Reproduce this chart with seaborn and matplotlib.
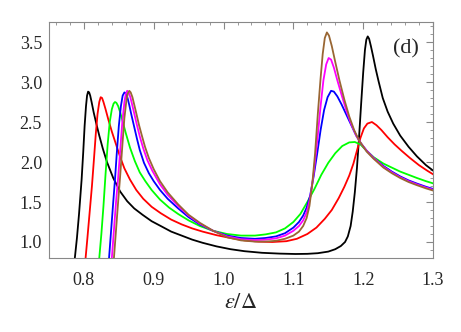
import pandas as pd
import seaborn as sns
import matplotlib.pyplot as plt
from matplotlib.ticker import MultipleLocator

# curves, one x/y pair per colour
black_x = [0.780, 0.787, 0.790, 0.793, 0.7967, 0.799, 0.801, 0.803, 0.8045, 0.806, 0.8075, 0.809, 0.811,
           0.814, 0.818, 0.822, 0.827, 0.833, 0.842, 0.852, 0.862, 0.872, 0.884, 0.897, 0.910, 0.925,
           0.940, 0.955, 0.970, 0.990, 1.010, 1.030, 1.055, 1.080, 1.103, 1.120, 1.135, 1.150, 1.160,
           1.168, 1.174, 1.178, 1.182, 1.185, 1.188, 1.191, 1.194, 1.197, 1.200, 1.2025, 1.2045, 1.2065,
           1.2085, 1.211, 1.214, 1.218, 1.222, 1.228, 1.235, 1.243, 1.253, 1.265, 1.277, 1.290, 1.305]
black_y = [0.40, 0.80, 1.05, 1.35, 1.78, 2.12, 2.45, 2.70, 2.83, 2.88, 2.87, 2.83, 2.75,
           2.62, 2.47, 2.33, 2.17, 2.00, 1.80, 1.63, 1.51, 1.42, 1.34, 1.26, 1.20, 1.13,
           1.08, 1.03, 0.99, 0.945, 0.91, 0.885, 0.865, 0.855, 0.85, 0.852, 0.86, 0.88, 0.91,
           0.95, 1.00, 1.07, 1.20, 1.38, 1.62, 1.92, 2.30, 2.72, 3.12, 3.40, 3.53, 3.57,
           3.54, 3.45, 3.33, 3.16, 3.01, 2.80, 2.63, 2.48, 2.33, 2.19, 2.07, 1.96, 1.86]

red_x = [0.797, 0.8024, 0.805, 0.808, 0.8115, 0.8145, 0.817, 0.8195, 0.822, 0.824, 0.826, 0.828, 0.831,
         0.835, 0.840, 0.846, 0.852, 0.858, 0.866, 0.875, 0.885, 0.897, 0.910, 0.925, 0.940, 0.955,
         0.970, 0.990, 1.010, 1.030, 1.050, 1.070, 1.090, 1.105, 1.120, 1.133, 1.145, 1.155, 1.165,
         1.173, 1.180, 1.186, 1.191, 1.196, 1.201, 1.206, 1.2125, 1.219, 1.226, 1.235, 1.245, 1.255,
         1.267, 1.280, 1.292, 1.305]
red_y = [0.40, 0.80, 1.05, 1.35, 1.70, 2.05, 2.35, 2.60, 2.75, 2.81, 2.80, 2.75, 2.66,
         2.53, 2.38, 2.22, 2.06, 1.92, 1.78, 1.65, 1.54, 1.44, 1.36, 1.28, 1.22, 1.17,
         1.13, 1.085, 1.05, 1.02, 1.005, 1.00, 1.01, 1.04, 1.10, 1.18, 1.29, 1.40, 1.55,
         1.69, 1.83, 1.98, 2.14, 2.30, 2.42, 2.48, 2.50, 2.46, 2.40, 2.31, 2.22, 2.14,
         2.05, 1.96, 1.89, 1.82]

green_x = [0.817, 0.822, 0.825, 0.828, 0.831, 0.834, 0.837, 0.840, 0.8425, 0.8445, 0.8465, 0.849, 0.852,
           0.856, 0.860, 0.866, 0.873, 0.880, 0.888, 0.897, 0.909, 0.922, 0.935, 0.950, 0.966, 0.985,
           1.005, 1.025, 1.045, 1.060, 1.075, 1.088, 1.100, 1.110, 1.120, 1.130, 1.140, 1.150, 1.160,
           1.170, 1.180, 1.188, 1.196, 1.205, 1.215, 1.229, 1.241, 1.253, 1.265, 1.277, 1.290, 1.305]
green_y = [0.40, 0.80, 1.10, 1.45, 1.85, 2.22, 2.50, 2.66, 2.73, 2.75, 2.74, 2.70, 2.62,
           2.49, 2.36, 2.18, 2.01, 1.87, 1.76, 1.65, 1.53, 1.43, 1.35, 1.27, 1.20, 1.14,
           1.10, 1.08, 1.08, 1.095, 1.12, 1.17, 1.25, 1.35, 1.50, 1.66, 1.84, 1.99, 2.11,
           2.20, 2.245, 2.25, 2.22, 2.14, 2.06, 1.98, 1.93, 1.88, 1.84, 1.80, 1.76, 1.72]

blue_x = [0.831, 0.836, 0.839, 0.842, 0.8445, 0.847, 0.850, 0.853, 0.8555, 0.858, 0.860, 0.8625, 0.865,
          0.868, 0.872, 0.876, 0.880, 0.886, 0.893, 0.900, 0.909, 0.920, 0.935, 0.950, 0.966, 0.985,
          1.005, 1.025, 1.045, 1.060, 1.075, 1.088, 1.100, 1.108, 1.114, 1.119, 1.124, 1.129, 1.134,
          1.139, 1.144, 1.149, 1.154, 1.158, 1.163, 1.169, 1.176, 1.183, 1.190, 1.197, 1.205, 1.215,
          1.229, 1.241, 1.253, 1.265, 1.277, 1.290, 1.305]
blue_y = [0.40, 0.80, 1.15, 1.50, 1.78, 2.10, 2.45, 2.70, 2.83, 2.87, 2.86, 2.80, 2.71,
          2.59, 2.44, 2.29, 2.15, 1.99, 1.86, 1.76, 1.65, 1.54, 1.42, 1.31, 1.22, 1.14,
          1.08, 1.05, 1.04, 1.05, 1.07, 1.11, 1.18, 1.25, 1.33, 1.43, 1.58, 1.82, 2.10,
          2.40, 2.65, 2.81, 2.89, 2.88, 2.82, 2.72, 2.59, 2.46, 2.33, 2.23, 2.14, 2.05,
          1.95, 1.88, 1.82, 1.77, 1.73, 1.69, 1.65]

magenta_x = [0.835, 0.840, 0.843, 0.846, 0.849, 0.852, 0.855, 0.858, 0.860, 0.862, 0.864, 0.8665, 0.869,
             0.872, 0.876, 0.880, 0.885, 0.891, 0.898, 0.909, 0.920, 0.935, 0.950, 0.966, 0.985, 1.005,
             1.025, 1.045, 1.060, 1.075, 1.088, 1.100, 1.108, 1.114, 1.119, 1.124, 1.129, 1.134, 1.139,
             1.143, 1.147, 1.1505, 1.154, 1.158, 1.163, 1.169, 1.176, 1.183, 1.190, 1.197, 1.205, 1.215,
             1.229, 1.241, 1.253, 1.265, 1.277, 1.290, 1.305]
magenta_y = [0.40, 0.80, 1.15, 1.50, 1.80, 2.15, 2.50, 2.75, 2.85, 2.89, 2.87, 2.81, 2.72,
             2.61, 2.46, 2.32, 2.17, 2.02, 1.89, 1.72, 1.59, 1.45, 1.33, 1.23, 1.14, 1.07,
             1.035, 1.025, 1.03, 1.045, 1.08, 1.14, 1.20, 1.27, 1.37, 1.55, 1.85, 2.25, 2.70,
             3.02, 3.22, 3.30, 3.28, 3.18, 3.02, 2.84, 2.64, 2.47, 2.33, 2.23, 2.14, 2.05,
             1.94, 1.87, 1.81, 1.76, 1.72, 1.68, 1.64]

brown_x = [0.838, 0.843, 0.846, 0.849, 0.8517, 0.855, 0.858, 0.861, 0.863, 0.865, 0.867, 0.8695, 0.872,
           0.875, 0.879, 0.883, 0.8875, 0.893, 0.900, 0.909, 0.920, 0.935, 0.950, 0.966, 0.985, 1.005,
           1.025, 1.045, 1.060, 1.075, 1.088, 1.100, 1.108, 1.114, 1.119, 1.123, 1.127, 1.131, 1.135,
           1.139, 1.142, 1.145, 1.148, 1.151, 1.155, 1.160, 1.166, 1.173, 1.180, 1.187, 1.194, 1.205,
           1.215, 1.229, 1.241, 1.253, 1.265, 1.277, 1.290, 1.305]
brown_y = [0.40, 0.80, 1.15, 1.50, 1.80, 2.20, 2.55, 2.78, 2.86, 2.89, 2.87, 2.81, 2.72,
           2.61, 2.46, 2.33, 2.19, 2.05, 1.91, 1.76, 1.62, 1.47, 1.34, 1.24, 1.14, 1.06,
           1.02, 1.005, 1.005, 1.015, 1.04, 1.08, 1.13, 1.20, 1.30, 1.45, 1.72, 2.10, 2.60,
           3.05, 3.35, 3.55, 3.62, 3.58, 3.45, 3.25, 3.02, 2.78, 2.57, 2.40, 2.27, 2.13,
           2.04, 1.93, 1.86, 1.80, 1.75, 1.71, 1.67, 1.63]

curves = {
    "black": (black_x, black_y),
    "red": (red_x, red_y),
    "green": (green_x, green_y),
    "blue": (blue_x, blue_y),
    "magenta": (magenta_x, magenta_y),
    "brown": (brown_x, brown_y),
}
palette = {"black": "#000000", "red": "#ff0000", "green": "#00ff00",
           "blue": "#0000ff", "magenta": "#ff00ff", "brown": "#996633"}

df = pd.concat(
    [pd.DataFrame({"eps": xs, "dos": ys, "curve": name}) for name, (xs, ys) in curves.items()],
    ignore_index=True,
)

sns.set_style("white")
plt.rcParams["font.family"] = ["Liberation Serif", "DejaVu Serif"]
plt.rcParams["mathtext.fontset"] = "stix"

fig = plt.figure(figsize=(4.61, 3.32), dpi=100)
ax = fig.add_axes([0.1063, 0.2229, 0.8330, 0.7108])

sns.lineplot(data=df, x="eps", y="dos", hue="curve", palette=palette,
             estimator=None, sort=False, linewidth=1.3, legend=False, ax=ax)

ax.set_xlim(0.75, 1.3)
ax.set_ylim(0.8, 3.75)
ax.xaxis.set_major_locator(MultipleLocator(0.1))
ax.xaxis.set_minor_locator(MultipleLocator(0.02))
ax.yaxis.set_major_locator(MultipleLocator(0.5))
ax.yaxis.set_minor_locator(MultipleLocator(0.1))
ax.xaxis.set_major_formatter(plt.FuncFormatter(lambda v, p: f"{v:.1f}"))
ax.yaxis.set_major_formatter(plt.FuncFormatter(lambda v, p: f"{v:.1f}"))
ax.tick_params(which="both", direction="in", top=True, right=True, color="#888888",
               labelsize=13)
ax.tick_params(axis="x", which="major", pad=10)
ax.tick_params(axis="y", which="major", pad=5)
ax.tick_params(which="major", length=5, width=0.8)
ax.tick_params(which="minor", length=2.5, width=0.6)
for s in ax.spines.values():
    s.set_color("#888888")
    s.set_linewidth(0.8)

ax.set_xlabel(r"$\varepsilon/\Delta$", fontsize=16, labelpad=4)
ax.set_ylabel("")
ax.text(0.93, 0.885, "(d)", transform=ax.transAxes, fontsize=16, ha="center", va="center")

fig.savefig("out.png", dpi=100)
